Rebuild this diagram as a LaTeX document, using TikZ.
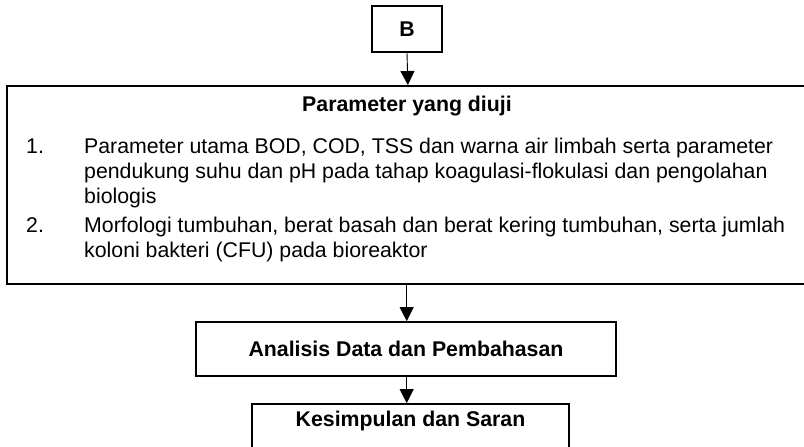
\documentclass[tikz,border=0pt]{standalone}
\usepackage{fontspec}
\setmainfont{Liberation Sans}
\usetikzlibrary{arrows.meta}
\begin{document}
\begin{tikzpicture}[x=1pt,y=-1pt,
  box/.style={draw,line width=1.8pt,inner sep=0pt},
  conn/.style={line width=0.9pt,-{Triangle[length=14pt,width=14pt]}},
  txt/.style={font=\fontsize{21.3}{25}\selectfont,inner sep=0pt,anchor=base west},
  btxt/.style={font=\fontsize{21.3}{25}\selectfont\bfseries,inner sep=0pt}]
\useasboundingbox (0,0) rectangle (804,447);
\clip (0,0) rectangle (804,447);
\node[box,minimum width=70pt,minimum height=46pt,btxt] (b) at (407,29) {B};
\node[box,minimum width=802pt,minimum height=198pt,anchor=north west] (param) at (6,85) {};
\node[btxt,anchor=base] (title) at (407,111) {Parameter yang diuji};
\node[txt] (n1) at (26,153) {1.};
\node[txt] (t1a) at (84,153) {Parameter utama BOD, COD, TSS dan warna air limbah serta parameter};
\node[txt] (t1b) at (84,178) {pendukung suhu dan pH pada tahap koagulasi-flokulasi dan pengolahan};
\node[txt] (t1c) at (84,203) {biologis};
\node[txt] (n2) at (26,232) {2.};
\node[txt] (t2a) at (84,232) {Morfologi tumbuhan, berat basah dan berat kering tumbuhan, serta jumlah};
\node[txt] (t2b) at (84,257) {koloni bakteri (CFU) pada bioreaktor};
\node[box,minimum width=420pt,minimum height=54pt,btxt] (ana) at (406,349) {Analisis Data dan Pembahasan};
\node[box,minimum width=317pt,minimum height=54pt] (kes) at (410.5,431) {};
\node[btxt] (kest) at (410.5,421) {Kesimpulan dan Saran};
\draw[conn] (b.south) -- (param.north);
\draw[conn] (param.south -| 406.7,0) -- (ana.north -| 406.7,0);
\draw[conn] (ana.south -| 406.7,0) -- (kes.north -| 406.7,0);
\end{tikzpicture}
\end{document}
